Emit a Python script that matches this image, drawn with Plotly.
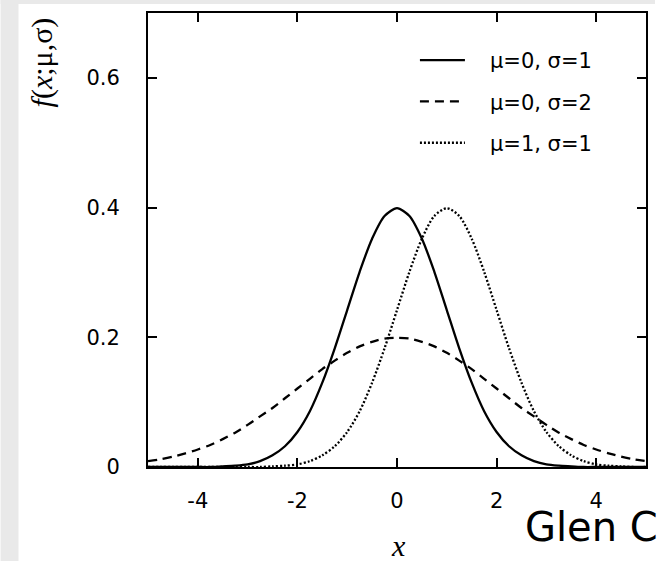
import plotly.graph_objects as go

# x grid (read at 0.25 steps)
x_vals = [-5.0, -4.75, -4.5, -4.25, -4.0, -3.75, -3.5, -3.25, -3.0, -2.75, -2.5, -2.25,
          -2.0, -1.75, -1.5, -1.25, -1.0, -0.75, -0.5, -0.25, 0.0, 0.25, 0.5, 0.75,
          1.0, 1.25, 1.5, 1.75, 2.0, 2.25, 2.5, 2.75, 3.0, 3.25, 3.5, 3.75, 4.0,
          4.25, 4.5, 4.75, 5.0]

# mu=0, sigma=1
y_m0_s1 = [0.000, 0.000, 0.000, 0.000, 0.000, 0.000, 0.001, 0.002, 0.004, 0.009, 0.018, 0.032,
           0.054, 0.086, 0.130, 0.183, 0.242, 0.301, 0.352, 0.387, 0.399, 0.387, 0.352, 0.301,
           0.242, 0.183, 0.130, 0.086, 0.054, 0.032, 0.018, 0.009, 0.004, 0.002, 0.001, 0.000, 0.000,
           0.000, 0.000, 0.000, 0.000]

# mu=0, sigma=2
y_m0_s2 = [0.009, 0.012, 0.016, 0.021, 0.027, 0.034, 0.043, 0.053, 0.065, 0.078, 0.091, 0.106,
           0.121, 0.136, 0.151, 0.164, 0.176, 0.186, 0.193, 0.198, 0.199, 0.198, 0.193, 0.186,
           0.176, 0.164, 0.151, 0.136, 0.121, 0.106, 0.091, 0.078, 0.065, 0.053, 0.043, 0.034, 0.027,
           0.021, 0.016, 0.012, 0.009]

# mu=1, sigma=1
y_m1_s1 = [0.000, 0.000, 0.000, 0.000, 0.000, 0.000, 0.000, 0.000, 0.000, 0.000, 0.001, 0.002,
           0.004, 0.009, 0.018, 0.032, 0.054, 0.086, 0.130, 0.183, 0.242, 0.301, 0.352, 0.387,
           0.399, 0.387, 0.352, 0.301, 0.242, 0.183, 0.130, 0.086, 0.054, 0.032, 0.018, 0.009, 0.004,
           0.002, 0.001, 0.000, 0.000]

series_names = ["\u03bc=0, \u03c3=1", "\u03bc=0, \u03c3=2", "\u03bc=1, \u03c3=1"]
x_ticks = [-4, -2, 0, 2, 4]
y_ticks = [0, 0.2, 0.4, 0.6]
y_tick_labels = ["0", "0.2", "0.4", "0.6"]

W, H = 657, 561
ML, MR, MT, MB = 148, 9, 13, 94
PW, PH = W - ML - MR, H - MT - MB

def px_x(p):
    return (p - ML) / PW

def px_y(p):
    return (H - MB - p) / PH

fig = go.Figure()
styles = [dict(color="black", width=2.3, dash="solid"),
          dict(color="black", width=2.3, dash="9px,6px"),
          dict(color="black", width=2.3, dash="2px,2px")]
pad = "\u00a0" * 3
for i, (ys, name) in enumerate(zip([y_m0_s1, y_m0_s2, y_m1_s1], series_names)):
    fig.add_trace(go.Scatter(x=x_vals, y=ys, mode="lines", name=pad + name,
                             line=dict(shape="spline", smoothing=0.8, **styles[i]),
                             legendgroup="g%d" % i))

tick_font = dict(family="DejaVu Sans", size=21, color="black")

fig.update_xaxes(range=[-5, 5], tickvals=x_ticks, ticktext=[str(v) for v in x_ticks],
                 ticks="inside", ticklen=9, tickwidth=1.5, tickcolor="black",
                 showline=True, linewidth=2, linecolor="black", mirror="ticks",
                 showgrid=False, zeroline=False, tickfont=tick_font,
                 ticklabelstandoff=14)
fig.update_yaxes(range=[0, 0.7], tickvals=y_ticks, ticktext=y_tick_labels,
                 ticks="inside", ticklen=9, tickwidth=1.5, tickcolor="black",
                 showline=True, linewidth=2, linecolor="black", mirror="ticks",
                 showgrid=False, zeroline=False, tickfont=tick_font,
                 ticklabelstandoff=22)

fig.update_layout(
    width=W, height=H,
    margin=dict(l=ML, r=MR, t=MT, b=MB),
    paper_bgcolor="white", plot_bgcolor="white",
    showlegend=True,
    legend=dict(x=px_x(416), y=px_y(40), xanchor="left", yanchor="top",
                bgcolor="rgba(0,0,0,0)", font=dict(family="DejaVu Sans", size=21, color="black"),
                itemwidth=45, tracegroupgap=11),
    shapes=[
        dict(type="rect", xref="paper", yref="paper", x0=px_x(0), x1=px_x(18), y0=px_y(H), y1=px_y(0),
             fillcolor="#e9e9e9", line=dict(width=0), layer="below"),
        dict(type="rect", xref="paper", yref="paper", x0=px_x(0), x1=px_x(W), y0=px_y(4), y1=px_y(0),
             fillcolor="#e9e9e9", line=dict(width=0), layer="below"),
    ],
    annotations=[
        dict(text="<i>f</i>(<i>x</i>;\u03bc,\u03c3)", xref="paper", yref="paper",
             x=px_x(42), y=px_y(62), xanchor="center", yanchor="middle", textangle=-90,
             showarrow=False, font=dict(family="Liberation Serif", size=30, color="black")),
        dict(text="<i>x</i>", xref="paper", yref="paper",
             x=px_x(400), y=px_y(564), xanchor="center", yanchor="bottom",
             showarrow=False, font=dict(family="Liberation Serif", size=30, color="black")),
        dict(text="Glen Cowan", xref="paper", yref="paper",
             x=px_x(525), y=px_y(527), xanchor="left", yanchor="middle",
             showarrow=False, font=dict(family="DejaVu Sans", size=40, color="black")),
    ],
)

fig.write_html("out.html")
